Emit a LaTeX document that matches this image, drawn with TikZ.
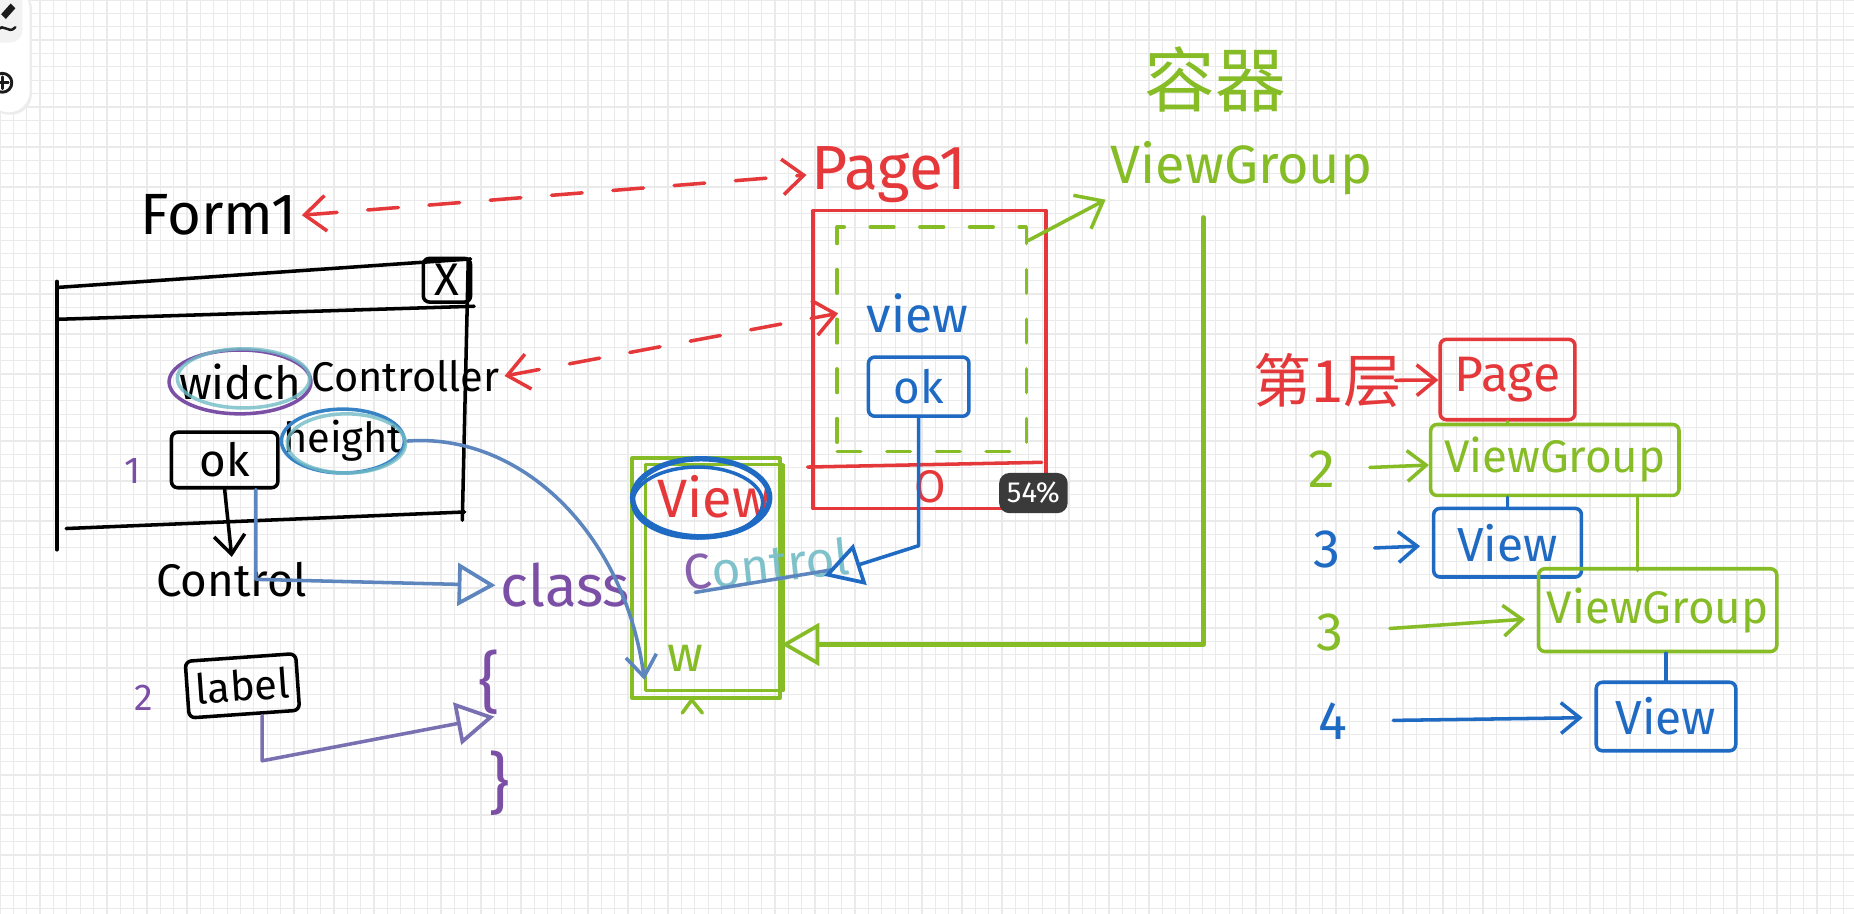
\documentclass[tikz,border=0pt]{standalone}
\usepackage{fontspec}
\setmainfont{Fira Sans}
\newfontfamily\cjkfont{Noto Sans CJK SC}
\usetikzlibrary{positioning,arrows.meta,shapes.geometric}

\definecolor{inkred}{HTML}{E5383B}
\definecolor{inkgreen}{HTML}{86BC25}
\definecolor{inkblue}{HTML}{1F6BC4}
\definecolor{inkpurple}{HTML}{7B4FA6}
\definecolor{inkteal}{HTML}{72BCC6}
\definecolor{inkmix}{HTML}{5E86BE}
\definecolor{inkblack}{HTML}{1B1B1B}
\definecolor{gridgray}{HTML}{EAEAEA}
\definecolor{tipgray}{HTML}{3A3A3A}

\newcommand{\inksize}[1]{\fontsize{#1}{#1}\selectfont}

\begin{document}
\begin{tikzpicture}[x=0.1mm, y=-0.1mm, line cap=round, line join=round,
    ink/.style={line width=0.85pt},
    hand node/.style={inner sep=1pt},
    box node/.style={draw, line width=0.85pt, rounded corners=1.5pt, inner sep=2pt},
    hand arrow/.style={ink, -{Straight Barb[length=1.6mm,width=2.6mm]}},
    dash link/.style={ink, inkred, dash pattern=on 2.6mm off 2.6mm,
      {Straight Barb[length=1.8mm,width=3mm]}-{Straight Barb[length=1.8mm,width=3mm]}},
    tri arrow/.style={ink, -{Triangle[open,length=3.2mm,width=3.6mm,line width=0.9pt]}}]
    \tikzstyle{every node}=[font=\inksize{11}]

    % paper
    \useasboundingbox (0,0) rectangle (1568,773);
    \fill[white] (0,0) rectangle (1568,773);
    \foreach \gx in {0,11.3,...,1568} \draw[gridgray, line width=0.3pt] (\gx,0) -- (\gx,773);
    \foreach \gy in {0,11.3,...,773} \draw[gridgray, line width=0.3pt] (0,\gy) -- (1568,\gy);

    % toolbar
    \fill[gray!15, rounded corners=5pt] (-10,-10) rectangle (27,97);
    \fill[white, rounded corners=5pt] (-10,-10) rectangle (25,95);
    \fill[gray!10, rounded corners=3pt] (-10,-10) rectangle (19,36);
    \fill[inkblack] (1,12) -- (9,3) -- (13,7) -- (5,16) -- cycle;
    \draw[inkblack, line width=0.6pt] (-2,26) .. controls (3,18) and (7,30) .. (13,23);
    \draw[inkblack, line width=0.7pt] (2,70) circle (8);
    \draw[inkblack, line width=0.7pt] (-3,70) -- (7,70) (2,65) -- (2,75);

    % form side
    \node[hand node, font=\inksize{14}] (form) at (185,182) {Form1};
    \draw[ink] (48,238) -- (48,465);
    \draw[ink] (50,243) -- (398,219);
    \draw[ink] (50,270) -- (401,259);
    \draw[ink] (396,221) -- (391,440);
    \draw[ink] (56,447) -- (393,433);
    \node[box node, minimum width=4mm, minimum height=3.7mm, inner sep=0pt] (closebtn) at (378,237) {X};

    \node[hand node, font=\inksize{11}] (widch) at (203,323) {widch};
    \draw[ink, inkpurple] (widch.center) ellipse [x radius=60, y radius=27];
    \draw[ink, inkteal, opacity=.8] ([shift={(3,-3)}]widch.center) ellipse [x radius=56, y radius=25];
    \node[hand node, font=\inksize{10}] (controller) at (343,318) {Controller};

    \node[hand node, inkpurple, font=\inksize{9}] (num1) at (112,398) {1};
    \node[box node, minimum width=9mm, minimum height=4.7mm, font=\inksize{11}] (okbtn) at (190,389) {ok};
    \node[hand node, font=\inksize{10}] (height) at (290,373) {height};
    \draw[ink, inkblue!70!inkteal] (height.center) ellipse [x radius=52, y radius=27];
    \draw[ink, inkteal, opacity=.8] ([shift={(3,2)}]height.center) ellipse [x radius=50, y radius=25];

    \node[hand node, font=\inksize{11}] (control) at (196,490) {Control};
    \node[hand node, inkpurple, font=\inksize{9}] (num2) at (122,590) {2};
    \node[box node, rotate=4, minimum width=9mm, minimum height=4.8mm, font=\inksize{10}] (labelbox) at (205,580) {label};

    \node[hand node, inkpurple, font=\inksize{14}] (cls) at (478,495) {class};
    \node[hand node, inkpurple, font=\inksize{16}] (lbrace) at (414,577) {\{};
    \node[hand node, inkpurple, font=\inksize{16}] (rbrace) at (422,662) {\}};
    \coordinate (classbody) at (418,606);

    % view box on the left
    \node[draw=inkgreen, ink, minimum width=12.5mm, minimum height=20.3mm] (viewbox) at (597,489) {};
    \draw[ink, inkgreen] (546,393) rectangle (662,584);
    \draw[ink, inkgreen] (577,603) -- (585,592) -- (594,603);
    \node[hand node, inkred, font=\inksize{13}] (viewred) at (604,420) {View};
    \draw[inkblue, line width=1.3pt] (593,421) ellipse [x radius=58, y radius=33];
    \draw[inkblue, ink] (590,425) ellipse [x radius=55, y radius=30];
    \node[hand node, inkteal, rotate=6, font=\inksize{12}, opacity=.9] (controlghost) at (648,477) {\textcolor{inkpurple}{C}ontrol};
    \draw[ink, inkmix] (588,501) -- (703,482);
    \node[hand node, inkgreen, font=\inksize{12}] (wlabel) at (580,557) {w};
    \coordinate (wtip) at (545,575);

    % page
    \node[hand node, inkred, font=\inksize{15}] (pagetitle) at (752,148) {Page1};
    \node[draw=inkred, ink, minimum width=19.7mm, minimum height=25.2mm] (pagebox) at (786,304) {};
    \draw[ink, inkred] (683,395) -- (881,391);
    \node[draw=inkgreen, ink, dash pattern=on 2mm off 2.2mm, minimum width=16mm, minimum height=19mm] (groupzone) at (788,287) {};
    \node[hand node, inkblue, font=\inksize{12}] (viewtxt) at (776,265) {view};
    \node[box node, inkblue, minimum width=8.5mm, minimum height=5mm, font=\inksize{11}] (okblue) at (777,327) {ok};
    \node[hand node, inkred, font=\inksize{11}] (zero) at (787,412) {O};
    \coordinate (blueend) at (697,487);
    \node[fill=tipgray, rounded corners=2.5pt, text=white, minimum width=5.8mm, minimum height=3.4mm, inner sep=0pt, font=\inksize{7}] (zoomtip) at (874,417) {54\%};

    % container
    \node[hand node, inkgreen, font=\cjkfont\inksize{17}] (rongqi) at (1028,67) {容器};
    \node[hand node, inkgreen, font=\inksize{13}] (vgtitle) at (1050,142) {ViewGroup};

    % tiers
    \node[box node, inkred, minimum width=11.4mm, minimum height=6.8mm, font=\inksize{12}] (tierpage) at (1275,321) {Page};
    \node[box node, inkgreen, minimum width=21mm, minimum height=6mm, font=\inksize{11}] (tiergroupA) at (1315,389) {ViewGroup};
    \node[box node, inkblue, minimum width=12.5mm, minimum height=5.8mm, font=\inksize{11.5}] (tierviewA) at (1275,459) {View};
    \node[box node, inkgreen, minimum width=20mm, minimum height=7mm, font=\inksize{11}] (tiergroupB) at (1402,516) {ViewGroup};
    \node[box node, inkblue, minimum width=11.8mm, minimum height=5.8mm, font=\inksize{11.5}] (tierviewB) at (1409,606) {View};

    \node[hand node, inkred, font=\cjkfont\inksize{14}] (tier1) at (1123,322) {第1层};
    \node[hand node, inkgreen, font=\inksize{13}] (tier2) at (1118,397) {2};
    \node[hand node, inkblue, font=\inksize{13}] (tier3a) at (1122,465) {3};
    \node[hand node, inkgreen, font=\inksize{13}] (tier3b) at (1125,535) {3};
    \node[hand node, inkblue, font=\inksize{13}] (tier4) at (1127,610) {4};

    % links
    \draw[dash link] (form.east) -- (pagetitle.west);
    \draw[dash link] (controller.east) -- ([xshift=-2mm]viewtxt.west);
    \draw[hand arrow] (okbtn.south) -- (control.north);
    \draw[tri arrow, inkmix] ([xshift=-2mm]okbtn.south east) -- ++(0,76) -- (cls.west);
    \draw[tri arrow, inkpurple!70!inkteal] ([xshift=1.5mm]labelbox.south) -- ++(0,38) -- (classbody);
    \draw[ink, inkmix, -{Straight Barb[length=1.8mm,width=2.6mm]}] (height.east) .. controls (440,366) and (528,450) .. (wtip);
    \draw[tri arrow, inkblue] (okblue.south) -- ++(0,108) -- (blueend);
    \draw[ink, inkgreen, -{Straight Barb[length=2mm,width=3.2mm]}] ([yshift=-1.3mm]groupzone.north east) -- (vgtitle.south west);
    \draw[tri arrow, inkgreen, line width=1.1pt] ([xshift=-3.2mm,yshift=-1.5mm]vgtitle.south) |- ([yshift=-5.6mm]viewbox.east);

    \path (tier1) edge[hand arrow, inkred, shorten <=-1mm] (tierpage)
          (tier2) edge[hand arrow, inkgreen, shorten <=2.5mm] (tiergroupA)
          (tier3a) edge[hand arrow, inkblue, shorten <=2.5mm, shorten >=1mm] (tierviewA)
          (tier3b) edge[hand arrow, inkgreen, shorten <=3.5mm, shorten >=1mm] (tiergroupB)
          (tier4) edge[hand arrow, inkblue, shorten <=3.5mm, shorten >=1mm] (tierviewB);
    \draw[ink, inkgreen] (tierpage.south) -- (tierpage.south |- tiergroupA.north);
    \draw[ink, inkblue] (tierviewA.north) -- (tierviewA.north |- tiergroupA.south);
    \draw[ink, inkgreen] ([xshift=7mm]tiergroupA.south) -- ++(0,62);
    \draw[ink, inkblue] (tierviewB.north) -- (tierviewB.north |- tiergroupB.south);
\end{tikzpicture}
\end{document}
